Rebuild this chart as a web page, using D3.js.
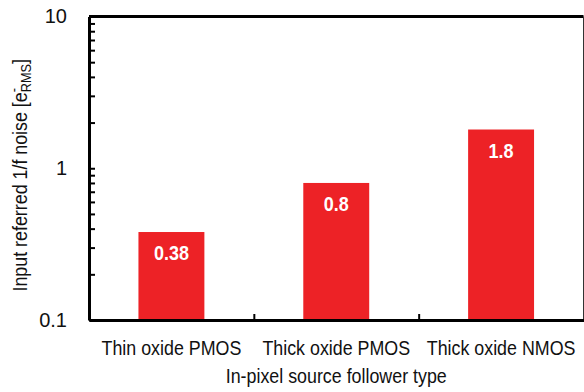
<!DOCTYPE html>
<html>
<head>
<meta charset="utf-8">
<script src="https://cdn.jsdelivr.net/npm/d3@7"></script>
<style>
  body { margin: 0; background: #fff; }
  svg { font-family: "Liberation Sans", Arial, sans-serif; }
</style>
</head>
<body>
<div id="chart"></div>
<script>
// data
var categories = ["Thin oxide PMOS", "Thick oxide PMOS", "Thick oxide NMOS"];
var noiseValues = [0.38, 0.8, 1.8];
var valueLabels = ["0.38", "0.8", "1.8"];
var majorTicks = [0.1, 1, 10];
var majorTickLabels = ["0.1", "1", "10"];

var svgWidth = 584;
var svgHeight = 392;

var margin = { top: 16.5, right: 0.5, bottom: 72, left: 89 };
var width = svgWidth - margin.left - margin.right;
var height = svgHeight - margin.top - margin.bottom;

var svg = d3.select("#chart")
    .append("svg")
    .attr("width", svgWidth)
    .attr("height", svgHeight);

var chartGroup = svg.append("g")
    .attr("transform", `translate(${margin.left}, ${margin.top})`);

// scales
var xBand = d3.scaleBand()
    .domain(categories)
    .range([0, width])
    .paddingInner(0.6)
    .paddingOuter(0.3);

var xEdges = d3.scaleLinear()
    .domain([0, categories.length])
    .range([0, width]);

var yLogScale = d3.scaleLog()
    .domain([0.1, 10])
    .range([height, 0]);

// minor ticks 2..9 in each decade
var allTicks = [];
majorTicks.slice(0, -1).forEach(function (m) {
    for (var k = 1; k < 10; k++) allTicks.push(m * k);
});
allTicks.push(10);

// bars
chartGroup.selectAll("rect.bar")
    .data(noiseValues)
    .enter()
    .append("rect")
    .attr("class", "bar")
    .attr("x", (d, i) => xBand(categories[i]))
    .attr("width", xBand.bandwidth())
    .attr("y", d => yLogScale(d))
    .attr("height", d => height - yLogScale(d))
    .attr("fill", "#ed2226");

// value labels
chartGroup.selectAll("text.val")
    .data(noiseValues)
    .enter()
    .append("text")
    .attr("class", "val")
    .attr("transform", (d, i) => `translate(${xBand(categories[i]) + xBand.bandwidth() / 2}, ${yLogScale(d) + 28}) scale(0.9,1)`)
    .attr("text-anchor", "middle")
    .attr("fill", "#fff")
    .attr("font-weight", "bold")
    .attr("font-size", "20px")
    .text((d, i) => valueLabels[i]);

// frame: top and right
chartGroup.append("line")
    .attr("x1", 0).attr("x2", width)
    .attr("y1", 0).attr("y2", 0)
    .attr("stroke", "#000").attr("stroke-width", 3);
chartGroup.append("line")
    .attr("x1", width).attr("x2", width)
    .attr("y1", 0).attr("y2", height)
    .attr("stroke", "#333").attr("stroke-width", 1);

// y axis
var yAxis = d3.axisLeft(yLogScale)
    .tickValues(allTicks)
    .tickSizeInner(-6)
    .tickSizeOuter(0)
    .tickPadding(22)
    .tickFormat(d => {
        var idx = majorTicks.findIndex(m => Math.abs(m - d) < 1e-9);
        return idx >= 0 ? majorTickLabels[idx] : "";
    });

var yAxisGroup = chartGroup.append("g").call(yAxis);
yAxisGroup.select(".domain").attr("stroke-width", 3);
yAxisGroup.selectAll(".tick line").attr("stroke-width", 2);
yAxisGroup.selectAll(".tick text")
    .attr("font-size", "20px")
    .attr("fill", "#111")
    .attr("font-family", "Liberation Sans, Arial, sans-serif");

// x axis: category boundaries ticks inward
var xAxis = d3.axisBottom(xEdges)
    .tickValues([1, 2])
    .tickSizeInner(-6)
    .tickSizeOuter(0)
    .tickFormat("");

var xAxisGroup = chartGroup.append("g")
    .attr("transform", `translate(0, ${height})`)
    .call(xAxis);
xAxisGroup.select(".domain").attr("stroke-width", 3);
xAxisGroup.selectAll(".tick line").attr("stroke-width", 2);

// category labels
chartGroup.selectAll("text.cat")
    .data(categories)
    .enter()
    .append("text")
    .attr("class", "cat")
    .attr("transform", d => `translate(${xBand(d) + xBand.bandwidth() / 2}, ${height + 35}) scale(0.85,1)`)
    .attr("text-anchor", "middle")
    .attr("font-size", "21px")
    .attr("fill", "#111")
    .text(d => d);

// x axis title
chartGroup.append("text")
    .attr("transform", `translate(${width / 2}, ${height + 63}) scale(0.85,1)`)
    .attr("text-anchor", "middle")
    .attr("font-size", "21px")
    .attr("fill", "#111")
    .text("In-pixel source follower type");

// y axis title with e^- and RMS subscript
var yTitle = svg.append("text")
    .attr("transform", `translate(27, ${margin.top + height / 2 + 7}) rotate(-90) scale(0.85,1)`)
    .attr("text-anchor", "middle")
    .attr("font-size", "21px")
    .attr("fill", "#111");
yTitle.append("tspan").text("Input referred 1/f noise [e");
yTitle.append("tspan").attr("font-size", "15px").attr("dy", -8).text("-");
yTitle.append("tspan").attr("font-size", "15px").attr("dx", -5).attr("dy", 12).text("RMS");
yTitle.append("tspan").attr("dy", -4).text("]");
</script>
</body>
</html>
